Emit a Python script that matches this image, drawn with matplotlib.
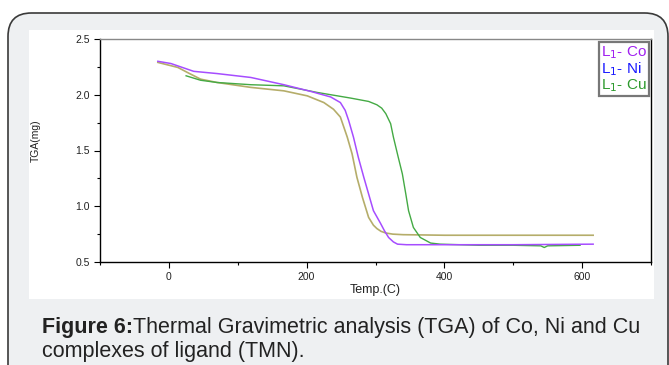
import matplotlib
matplotlib.use("Agg")
import matplotlib.pyplot as plt
from matplotlib.patches import FancyBboxPatch, Rectangle
from matplotlib.ticker import MultipleLocator
from matplotlib import font_manager

# ---- data ----
co_temp = [-16, 3, 36, 70, 119, 167, 206, 235, 249, 256, 261, 268, 275, 283, 290, 297, 307, 313, 319, 326, 332, 345, 400, 500, 616]
co_tga  = [2.30, 2.28, 2.21, 2.19, 2.155, 2.09, 2.03, 1.98, 1.93, 1.86, 1.77, 1.62, 1.44, 1.26, 1.11, 0.96, 0.85, 0.78, 0.72, 0.68, 0.66, 0.655, 0.655, 0.655, 0.66]

ni_temp = [-16, 13, 30, 46, 70, 119, 167, 201, 225, 239, 249, 259, 266, 273, 281, 290, 297, 302, 308, 315, 325, 340, 400, 500, 616]
ni_tga  = [2.29, 2.245, 2.19, 2.14, 2.11, 2.066, 2.035, 1.99, 1.93, 1.87, 1.80, 1.62, 1.47, 1.26, 1.08, 0.90, 0.83, 0.80, 0.775, 0.76, 0.75, 0.745, 0.74, 0.74, 0.74]

cu_temp = [25, 46, 70, 119, 167, 216, 264, 290, 302, 309, 315, 322, 326, 333, 339, 344, 348, 355, 365, 380, 394, 450, 500, 540, 545, 550, 597]
cu_tga  = [2.17, 2.13, 2.11, 2.09, 2.08, 2.02, 1.97, 1.94, 1.91, 1.88, 1.83, 1.74, 1.62, 1.44, 1.29, 1.11, 0.96, 0.81, 0.72, 0.67, 0.66, 0.65, 0.65, 0.645, 0.63, 0.645, 0.65]

labels = ["L$_1$- Co", "L$_1$- Ni", "L$_1$- Cu"]
x_ticks = [0, 200, 400, 600]
y_ticks = [0.5, 1.0, 1.5, 2.0, 2.5]

# ---- fonts ----
avail = {f.name for f in font_manager.fontManager.ttflist}
base_font = "Liberation Sans" if "Liberation Sans" in avail else "DejaVu Sans"
cap_font = "Liberation Sans Narrow" if "Liberation Sans Narrow" in avail else base_font
cap_size = 13 if cap_font.endswith("Narrow") else 15.5
plt.rcParams["font.family"] = [base_font, "DejaVu Sans"]

W, H = 669, 365
fig = plt.figure(figsize=(W / 100, H / 100), dpi=100)
fig.patch.set_facecolor("white")

# card background
card = FancyBboxPatch((8 / W, -0.2), (668 - 8) / W, 1.2 - 13 / H,
                      boxstyle="round,pad=0,rounding_size=0.035",
                      transform=fig.transFigure, facecolor="#eef0f2",
                      edgecolor="#3a3a3a", linewidth=1.2, zorder=0,
                      mutation_aspect=W / H)
fig.patches.append(card)
# white chart panel
fig.patches.append(Rectangle((29 / W, 1 - 299 / H), (654 - 29) / W, (299 - 30) / H,
                             transform=fig.transFigure, facecolor="white",
                             edgecolor="none", zorder=0.5))

ax = fig.add_axes([100 / W, 1 - 262 / H, (651 - 100) / W, (262 - 39) / H])
ax.set_zorder(2)
ax.set_facecolor("white")
ax.plot(co_temp, co_tga, color="#a64dff", lw=1.1, zorder=3)
ax.plot(ni_temp, ni_tga, color="#b5ad6a", lw=1.2, zorder=2)
ax.plot(cu_temp, cu_tga, color="#44aa44", lw=1.0, zorder=2.5)

ax.set_xlim(-100, 700)
ax.set_ylim(0.5, 2.5)
ax.set_xticks(x_ticks)
ax.set_yticks(y_ticks)
ax.xaxis.set_minor_locator(MultipleLocator(100))
ax.yaxis.set_minor_locator(MultipleLocator(0.25))
ax.tick_params(axis="both", which="major", direction="out", length=4, width=0.8,
               labelsize=7.5, labelcolor="#222222")
ax.tick_params(axis="both", which="minor", direction="out", length=2.5, width=0.8)
ax.set_yticklabels(["0.5", "1.0", "1.5", "2.0", "2.5"])
for s in ["left", "bottom", "right"]:
    ax.spines[s].set_color("black")
    ax.spines[s].set_linewidth(1.0)
ax.spines["top"].set_color("#888888")
ax.spines["top"].set_linewidth(1.0)

ax.set_xlabel("Temp.(C)", fontsize=9, labelpad=1, color="#222222")
fig.text(36 / W, 1 - 141 / H, "TGA(mg)", rotation=90, fontsize=7.5,
         ha="center", va="center", zorder=3, color="#222222")

leg = ax.legend(handles=[plt.Line2D([], [], lw=0, marker=None) for _ in labels],
                labels=labels, loc="upper right", bbox_to_anchor=(1.0, 0.995),
                handlelength=0, handletextpad=0, fontsize=11, frameon=True,
                fancybox=False, borderpad=0.15, labelspacing=-0.05,
                borderaxespad=0.1)
leg.get_frame().set_edgecolor("#555555")
leg.get_frame().set_linewidth(1.6)
for t, c in zip(leg.get_texts(), ["#a020f0", "#1a1aff", "#2e9a2e"]):
    t.set_color(c)

# caption
fig.text(42 / W, 1 - 333 / H, "Figure 6:", fontsize=cap_size, fontweight="bold",
         family=[cap_font, "DejaVu Sans"], color="#222222", ha="left", va="baseline")
fig.canvas.draw()
r = fig.texts[-1].get_window_extent(fig.canvas.get_renderer())
fig.text(r.x1 / W, 1 - 333 / H, "Thermal Gravimetric analysis (TGA) of Co, Ni and Cu",
         fontsize=cap_size, family=[cap_font, "DejaVu Sans"], color="#222222",
         ha="left", va="baseline")
fig.text(42 / W, 1 - 357 / H, "complexes of ligand (TMN).", fontsize=cap_size,
         family=[cap_font, "DejaVu Sans"], color="#222222", ha="left", va="baseline")

fig.savefig("out.png", dpi=100)
